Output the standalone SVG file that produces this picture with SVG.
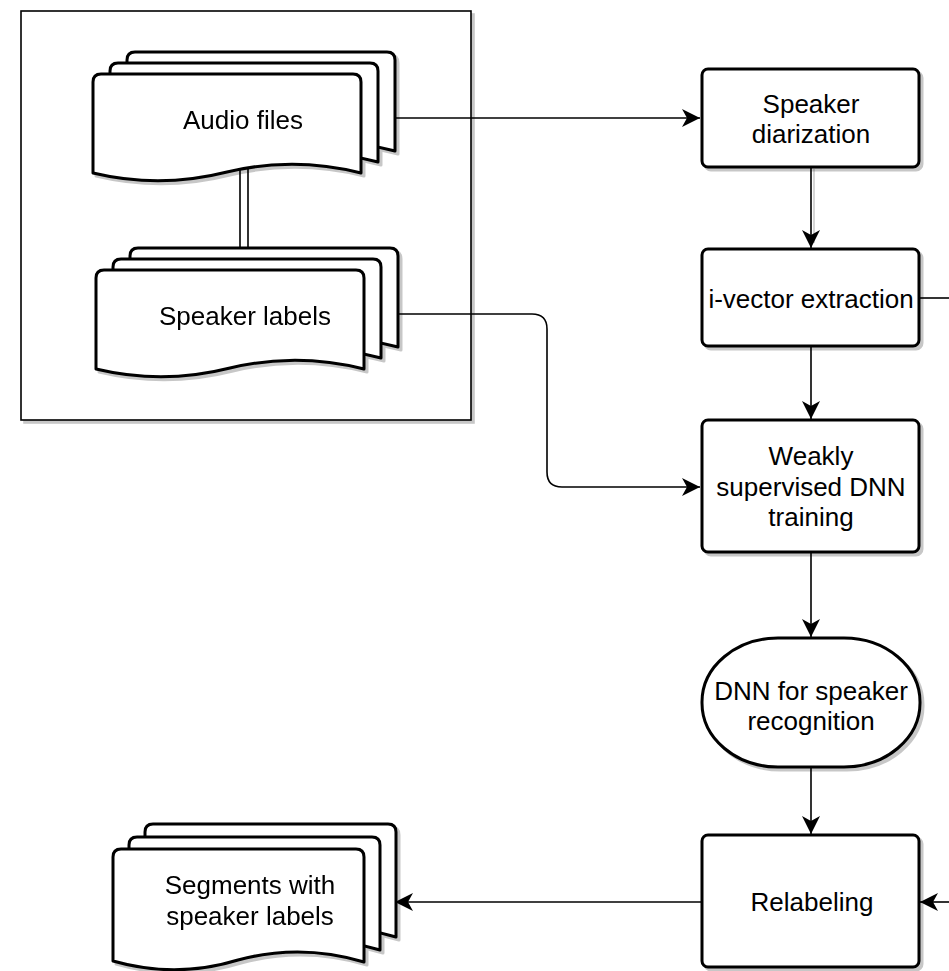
<svg xmlns="http://www.w3.org/2000/svg" xmlns:xlink="http://www.w3.org/1999/xlink" width="949" height="971" viewBox="0 0 949 971">
<style>
.box{fill:#fff;stroke:#000;stroke-width:3}
.page{fill:#fff;stroke:#000;stroke-width:3;stroke-linejoin:round}
.cont{fill:#fff;stroke:#000;stroke-width:1.6}
.edge{fill:none;stroke:#000;stroke-width:1.6}
text{font-family:"Liberation Sans",Arial,Helvetica,sans-serif;font-size:26px;fill:#000;text-anchor:middle}
</style>
<defs>
<filter id="sh" x="-10%" y="-10%" width="125%" height="125%">
<feOffset in="SourceAlpha" dx="3" dy="3" result="o"/>
<feFlood flood-color="#000" flood-opacity="0.22"/>
<feComposite in2="o" operator="in" result="s"/>
<feMerge><feMergeNode in="s"/><feMergeNode in="SourceGraphic"/></feMerge>
</filter>
<path id="pageA" d="M0,99 L0,8 Q0,0 8,0 L260,0 Q268,0 268,8 L268,99 Q201,82 134,98 Q67,115 0,99 Z"/>
<path id="pageB" d="M0,112 L0,8 Q0,0 8,0 L243,0 Q251,0 251,8 L251,113 Q188,94 125,111 Q63,130 0,112 Z"/>
<marker id="arr" markerUnits="userSpaceOnUse" viewBox="0 0 18 18" refX="18" refY="9" markerWidth="18" markerHeight="18" orient="auto">
<path d="M0,0 L18,9 L0,18 L5,9 Z" fill="#000"/>
</marker>
</defs>

<g id="container">
<rect class="cont" x="21" y="11" width="450" height="409" filter="url(#sh)"/>
</g>

<g id="connectors">
<path class="edge" d="M395,118 L700,118" marker-end="url(#arr)"/>
<path class="edge" d="M240,168 L240,249 M248,166 L248,249"/>
<path class="edge" d="M397,314 L532,314 Q547,314 547,329 L547,472 Q547,487 562,487 L700,487" marker-end="url(#arr)"/>
<path d="M814,169 L814,243" stroke="#c8c8c8" stroke-width="1.5" fill="none"/>
<path class="edge" d="M811,167 L811,248" marker-end="url(#arr)"/>
<path class="edge" d="M811,346 L811,419" marker-end="url(#arr)"/>
<path class="edge" d="M811,552 L811,637" marker-end="url(#arr)"/>
<path class="edge" d="M811,767 L811,834" marker-end="url(#arr)"/>
<path class="edge" d="M919,298 L949,298"/>
<path class="edge" d="M949,902 L920,902" marker-end="url(#arr)"/>
<path class="edge" d="M702,902 L395,902" marker-end="url(#arr)"/>
</g>

<g id="audio-files" filter="url(#sh)">
<use xlink:href="#pageA" href="#pageA" class="page" transform="translate(127,52)"/>
<use xlink:href="#pageA" href="#pageA" class="page" transform="translate(110,63)"/>
<use xlink:href="#pageA" href="#pageA" class="page" transform="translate(93,74)"/>
<text x="243" y="129">Audio files</text>
</g>

<g id="speaker-labels" filter="url(#sh)">
<use xlink:href="#pageA" href="#pageA" class="page" transform="translate(130,248)"/>
<use xlink:href="#pageA" href="#pageA" class="page" transform="translate(113,259)"/>
<use xlink:href="#pageA" href="#pageA" class="page" transform="translate(96,270)"/>
<text x="245" y="325">Speaker labels</text>
</g>

<g id="speaker-diarization">
<rect class="box" x="702" y="69" width="217" height="98" rx="6" filter="url(#sh)"/>
<text x="811" y="113">Speaker</text>
<text x="811" y="143">diarization</text>
</g>

<g id="ivector-extraction">
<rect class="box" x="702" y="249" width="217" height="97" rx="6" filter="url(#sh)"/>
<text x="811" y="308">i-vector extraction</text>
</g>

<g id="dnn-training">
<rect class="box" x="702" y="420" width="217" height="132" rx="6" filter="url(#sh)"/>
<text x="811" y="465">Weakly</text>
<text x="811" y="496">supervised DNN</text>
<text x="811" y="526">training</text>
</g>

<g id="dnn-model">
<rect class="box" x="702" y="638" width="218" height="129" rx="76" ry="64" filter="url(#sh)"/>
<text x="811" y="700">DNN for speaker</text>
<text x="811" y="730">recognition</text>
</g>

<g id="relabeling">
<rect class="box" x="702" y="835" width="217" height="132" rx="6" filter="url(#sh)"/>
<text x="812" y="911">Relabeling</text>
</g>

<g id="segments" filter="url(#sh)">
<use xlink:href="#pageB" href="#pageB" class="page" transform="translate(145,824)"/>
<use xlink:href="#pageB" href="#pageB" class="page" transform="translate(129,837)"/>
<use xlink:href="#pageB" href="#pageB" class="page" transform="translate(113,849)"/>
<text x="250" y="894">Segments with</text>
<text x="250" y="925">speaker labels</text>
</g>
</svg>
